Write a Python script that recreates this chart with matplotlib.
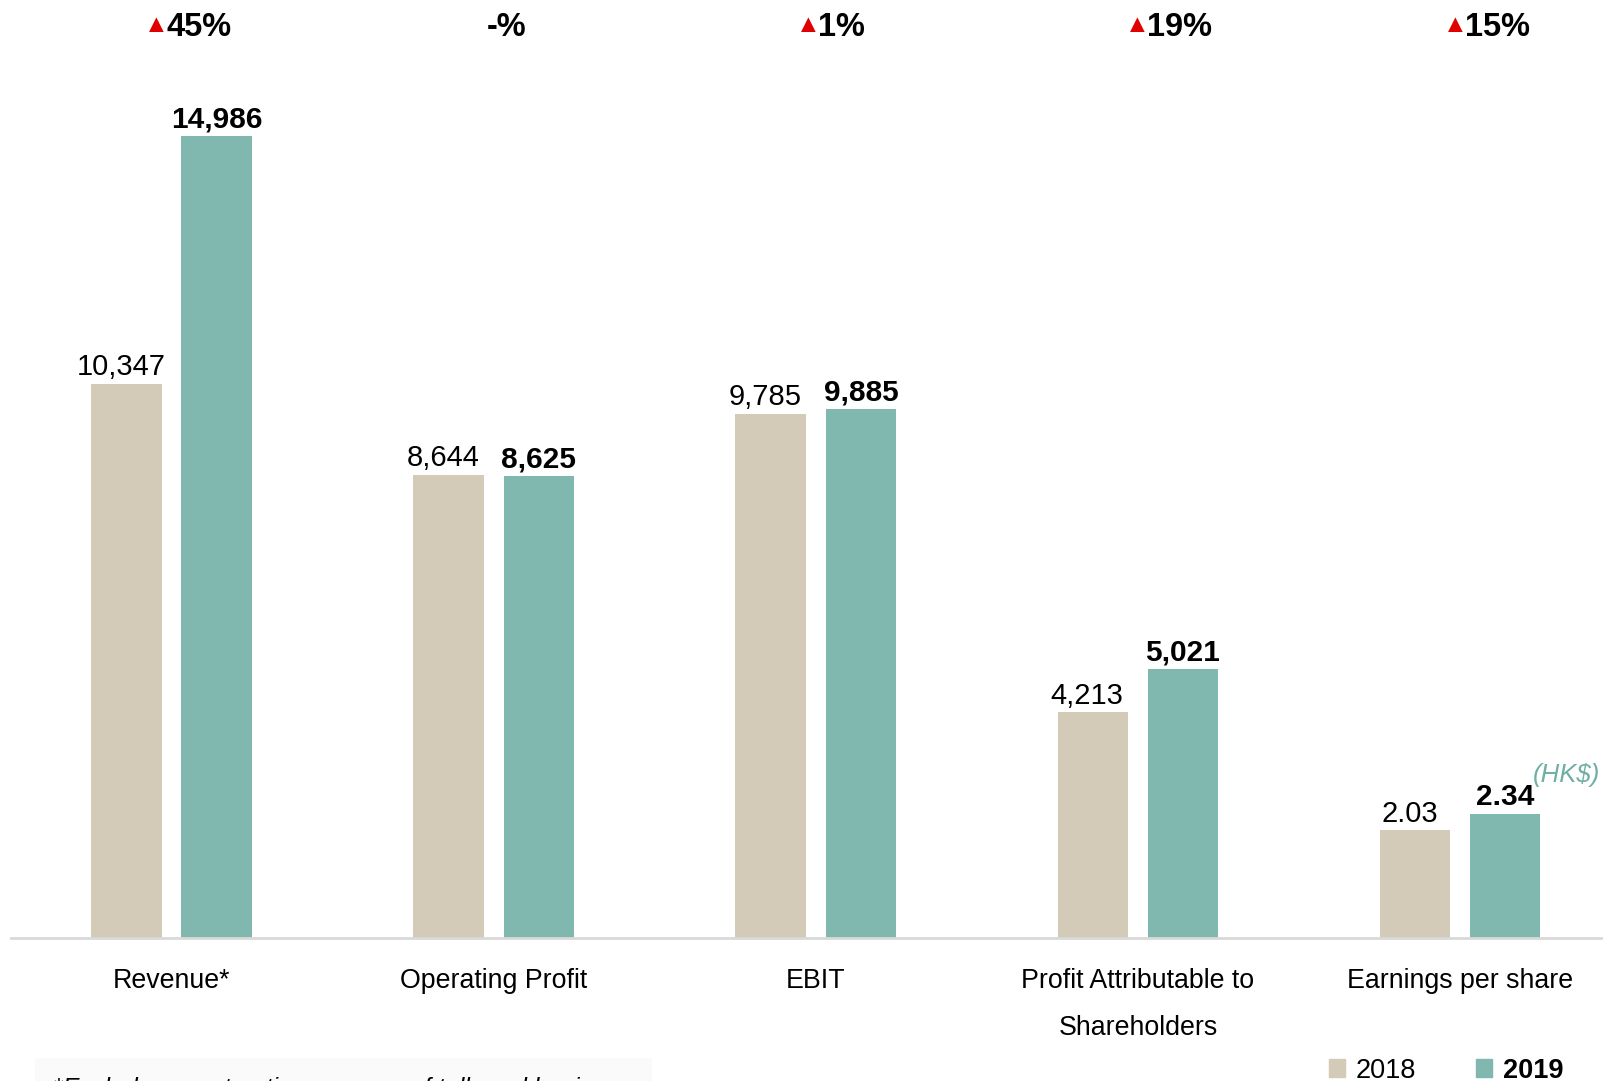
import matplotlib.pyplot as plt
from matplotlib.patches import Patch, Rectangle

plt.rcParams['font.family'] = ['Liberation Sans', 'DejaVu Sans']

# data
categories = ['Revenue*', 'Operating Profit', 'EBIT',
              'Profit Attributable to\nShareholders', 'Earnings per share']
v2018 = [10347, 8644, 9785, 4213, 2.03]
v2019 = [14986, 8625, 9885, 5021, 2.34]
labels2018 = ['10,347', '8,644', '9,785', '4,213', '2.03']
labels2019 = ['14,986', '8,625', '9,885', '5,021', '2.34']
changes = ['45%', '-%', '1%', '19%', '15%']
up = [True, False, True, True, True]

# EPS is drawn on its own visual scale
EPS_SCALE = 988

c18 = '#D3CBB8'
c19 = '#80B7AE'

fig = plt.figure(figsize=(16.03, 10.81), dpi=100)
ax = fig.add_axes([0.007, 0.1325, 0.993, 0.8675])

x = list(range(len(categories)))
h18 = v2018[:4] + [v2018[4] * EPS_SCALE]
h19 = v2019[:4] + [v2019[4] * EPS_SCALE]
off = 0.14
w = 0.219
ax.bar([i - off for i in x], h18, width=w, color=c18)
ax.bar([i + off for i in x], h19, width=w, color=c19)

ax.set_xlim(-0.498, 4.444)
ax.set_ylim(0, 17527)
for s in ['top', 'right', 'left']:
    ax.spines[s].set_visible(False)
ax.spines['bottom'].set_color('#D9D9D9')
ax.spines['bottom'].set_linewidth(2)
ax.set_yticks([])
ax.set_xticks(x)
ax.set_xticklabels(categories, fontsize=19.3, linespacing=2.05, va='top')
ax.tick_params(axis='x', length=0, pad=22)

for i in x:
    ax.annotate(labels2018[i], (i - off, h18[i]), xytext=(-4, 2),
                textcoords='offset points', ha='center', va='bottom', fontsize=21)
    ax.annotate(labels2019[i], (i + off, h19[i]), xytext=(0, 2),
                textcoords='offset points', ha='center', va='bottom',
                fontsize=21.5, fontweight='bold')

# change labels on top
pct_x = [-0.016, -0.022, 0.006, 0.029, 0.016]
for i in x:
    ax.text(i + pct_x[i], 17011, changes[i], ha='left', va='center',
            fontsize=23.5, fontweight='bold')
    if up[i]:
        ax.text(i + pct_x[i] + 0.008, 17060, '\u25B2', ha='right', va='center',
                fontsize=18, color='#E00000')

ax.text(4.435, 3050, '(HK$)', ha='right', va='center', fontsize=18.5,
        style='italic', color='#6FAFA4')

# footnote (cut off at bottom)
fig.patches.append(Rectangle((0.022, 0), 0.385, 0.021, transform=fig.transFigure,
                             facecolor='#FAFAFA', edgecolor='none', zorder=0))
fig.text(0.033, 0.004, '*Excludes construction revenue of toll road business',
         fontsize=18, style='italic', ha='left', va='top')

handles = [Patch(color=c18), Patch(color=c19)]
leg = fig.legend(handles, ['2018', '2019'], loc='center', ncol=2,
                 bbox_to_anchor=(0.902, 0.0095), frameon=False, fontsize=19.5,
                 handlelength=0.6, handleheight=0.65, handletextpad=0.4,
                 columnspacing=2.2)
leg.get_texts()[1].set_fontweight('bold')

fig.savefig('out.png', dpi=100)
